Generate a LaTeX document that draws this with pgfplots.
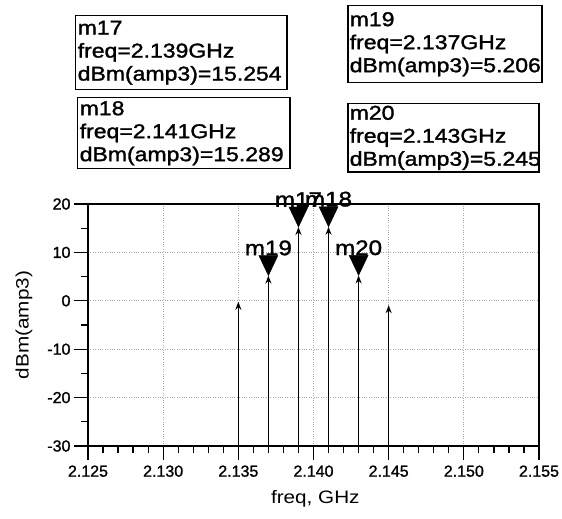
\documentclass[border=0pt]{standalone}
\usepackage{fontspec}
\setmainfont{Liberation Sans}
\newfontfamily\labfont[FakeStretch=1.15,FakeBold=1.5]{Liberation Sans}
\newfontfamily\axfont[FakeStretch=1.15]{Liberation Sans}
\newfontfamily\tickfont[FakeBold=1.2]{Liberation Sans}
\usepackage{pgfplots}
\pgfplotsset{compat=1.18}
\usetikzlibrary{arrows.meta}

% marker: filled triangle pointing down, apex on the data point
\pgfdeclareplotmark{dtri}{%
  \pgfpathmoveto{\pgfpointorigin}%
  \pgfpathlineto{\pgfpoint{-9.5pt}{20pt}}%
  \pgfpathlineto{\pgfpoint{9.5pt}{20pt}}%
  \pgfpathclose
  \pgfusepathqfillstroke}

\tikzset{mbox/.style={draw, line width=1.5pt, anchor=north west, inner sep=2pt,
  align=left, font=\labfont\fontsize{20}{23}\selectfont}}

\begin{document}
\begin{tikzpicture}
\path[use as bounding box] (-88pt,-73pt) rectangle (474pt,446pt);
\begin{axis}[
  scale only axis, width=451pt, height=242pt,
  xmin=2.125, xmax=2.155, ymin=-30, ymax=20,
  xtick={2.125,2.130,2.135,2.140,2.145,2.150,2.155},
  ytick={-30,-20,-10,0,10,20},
  minor x tick num=4, minor y tick num=1,
  tick align=outside, xtick pos=bottom, ytick pos=left,
  major tick length=14pt, minor tick length=7pt,
  every tick/.style={black, line width=1.2pt},
  grid=major, grid style={dotted, gray!70, line width=0.7pt},
  axis line style={line width=1.8pt},
  /pgf/number format/assume math mode=true,
  ticklabel style={font=\tickfont\fontsize{16}{16}\selectfont},
  xticklabel style={yshift=-2pt, /pgf/number format/.cd, fixed, fixed zerofill, precision=3},
  xlabel={freq, GHz}, ylabel={dBm(amp3)},
  every axis x label/.style={at={(axis description cs:0.504,-0.219)}, anchor=center,
    font=\axfont\fontsize{18}{18}\selectfont},
  every axis y label/.style={at={(axis description cs:-0.142,0.5)}, rotate=90, anchor=center,
    font=\axfont\fontsize{18}{18}\selectfont},
  clip=false,
]
\addplot[line width=1.6pt, -{Stealth[length=8pt,width=6pt]}] coordinates {(2.135,-30) (2.135,-0.2)};
\addplot[line width=1.6pt, -{Stealth[length=8pt,width=6pt]}] coordinates {(2.137,-30) (2.137,5.206)};
\addplot[line width=1.6pt, -{Stealth[length=8pt,width=6pt]}] coordinates {(2.139,-30) (2.139,15.254)};
\addplot[line width=1.6pt, -{Stealth[length=8pt,width=6pt]}] coordinates {(2.141,-30) (2.141,15.289)};
\addplot[line width=1.6pt, -{Stealth[length=8pt,width=6pt]}] coordinates {(2.143,-30) (2.143,5.245)};
\addplot[line width=1.6pt, -{Stealth[length=8pt,width=6pt]}] coordinates {(2.145,-30) (2.145,-0.9)};
\addplot[only marks, mark=dtri, mark options={fill=black, draw=black},
  point meta=explicit symbolic, nodes near coords,
  every node near coord/.append style={anchor=south, yshift=19pt, inner sep=1pt,
    font=\labfont\fontsize{21}{21}\selectfont}]
  table[meta=lab] {
x y lab
2.137 5.206 m19
2.139 15.254 m17
2.141 15.289 m18
2.143 5.245 m20
};
\end{axis}
\node[mbox, text width=207pt, minimum height=74pt] at (-13pt,431pt) {m17\\freq=2.139GHz\\dBm(amp3)=15.254};
\node[mbox, text width=208pt, minimum height=71pt] at (-11pt,349pt) {m18\\freq=2.141GHz\\dBm(amp3)=15.289};
\node[mbox, text width=190pt, minimum height=77pt] at (259pt,441pt) {m19\\freq=2.137GHz\\dBm(amp3)=5.206};
\node[mbox, text width=187pt, minimum height=64pt] at (259pt,343pt) {m20\\freq=2.143GHz\\dBm(amp3)=5.245};
\end{tikzpicture}
\end{document}
